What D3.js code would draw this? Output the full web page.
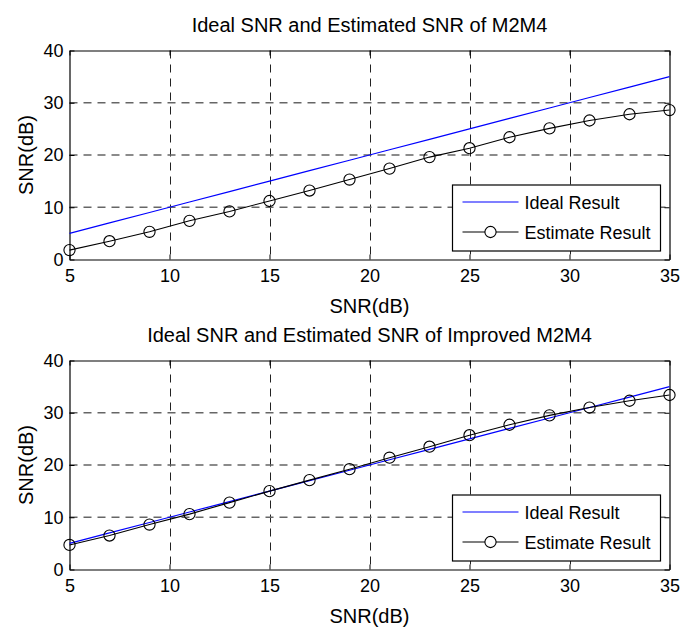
<!DOCTYPE html>
<html>
<head>
<meta charset="utf-8">
<script src="https://cdn.jsdelivr.net/npm/d3@7"></script>
<style>
html,body{margin:0;padding:0;background:#fff;}
svg{display:block;}
text{font-family:"Liberation Sans",Arial,Helvetica,sans-serif;fill:#000;}
</style>
</head>
<body>
<svg id="chart" width="694" height="628"></svg>
<script>
// ---- data ----
const snrIn = [5,7,9,11,13,15,17,19,21,23,25,27,29,31,33,35];
const idealTop = [5,7,9,11,13,15,17,19,21,23,25,27,29,31,33,35];
const estTop = [1.8,3.5,5.3,7.4,9.2,11.2,13.2,15.3,17.4,19.6,21.3,23.4,25.1,26.6,27.8,28.6];
const idealBottom = [5,7,9,11,13,15,17,19,21,23,25,27,29,31,33,35];
const estBottom = [4.7,6.5,8.6,10.6,12.8,15.0,17.1,19.2,21.4,23.5,25.7,27.7,29.5,31.0,32.3,33.4];
const xTicks = [5,10,15,20,25,30,35];
const yTicks = [0,10,20,30,40];
const titles = ["Ideal SNR and Estimated SNR of M2M4","Ideal SNR and Estimated SNR of Improved M2M4"];
const axisLabel = "SNR(dB)";
const legendLabels = ["Ideal Result","Estimate Result"];

const svg = d3.select("#chart");
const L = 69.5, R = 669.5, H = 209;
const panels = [
  {top:50.5, ideal:idealTop, est:estTop, title:titles[0]},
  {top:360.5, ideal:idealBottom, est:estBottom, title:titles[1]}
];

panels.forEach(p => {
  const x = d3.scaleLinear().domain([5,35]).range([L,R]);
  const y = d3.scaleLinear().domain([0,40]).range([p.top+H,p.top]);
  const g = svg.append("g");

  // grid
  g.append("g").selectAll("line").data(xTicks.slice(1,-1)).join("line")
    .attr("x1",d=>Math.round(x(d))+0.5).attr("x2",d=>Math.round(x(d))+0.5)
    .attr("y1",p.top).attr("y2",p.top+H)
    .attr("stroke","#222").attr("stroke-width",1).attr("stroke-dasharray","8,6");
  g.append("g").selectAll("line").data(yTicks.slice(1,-1)).join("line")
    .attr("x1",L).attr("x2",R)
    .attr("y1",d=>y(d)).attr("y2",d=>y(d))
    .attr("stroke","#666").attr("stroke-width",1.6).attr("stroke-dasharray","8,6");

  // axes
  const fs = "18px";
  const ax = g.append("g").attr("transform",`translate(0,${p.top+H})`)
    .call(d3.axisBottom(x).tickValues(xTicks).tickSize(-5).tickPadding(10).tickSizeOuter(0));
  const ay = g.append("g").attr("transform",`translate(${L},0)`)
    .call(d3.axisLeft(y).tickValues(yTicks).tickSize(-5).tickPadding(6).tickSizeOuter(0));
  const at = g.append("g").attr("transform",`translate(0,${p.top})`)
    .call(d3.axisTop(x).tickValues(xTicks).tickSize(-5).tickFormat("").tickSizeOuter(0));
  const ar = g.append("g").attr("transform",`translate(${R},0)`)
    .call(d3.axisRight(y).tickValues(yTicks).tickSize(-5).tickFormat("").tickSizeOuter(0));
  [ax,ay,at,ar].forEach(a=>{
    a.selectAll("path").attr("stroke","#000").attr("stroke-width",1.2);
    a.selectAll("line").attr("stroke","#000");
    a.selectAll("text").attr("font-size",fs).attr("font-family",null).attr("fill","#000");
  });

  // lines
  const lineIdeal = d3.line().x((d,i)=>x(snrIn[i])).y(d=>y(d));
  g.append("path").datum(p.ideal).attr("d",lineIdeal)
    .attr("fill","none").attr("stroke","#0000ff").attr("stroke-width",1.2);
  g.append("path").datum(p.est).attr("d",lineIdeal)
    .attr("fill","none").attr("stroke","#000").attr("stroke-width",1.1);
  g.append("g").selectAll("circle").data(p.est).join("circle")
    .attr("cx",(d,i)=>x(snrIn[i])).attr("cy",d=>y(d)).attr("r",5.6)
    .attr("fill","none").attr("stroke","#000").attr("stroke-width",1.1);

  // titles & labels
  g.append("text").attr("x",(L+R)/2).attr("y",p.top-18.5).attr("text-anchor","middle")
    .attr("font-size","20px").text(p.title);
  g.append("text").attr("x",(L+R)/2).attr("y",p.top+H+53).attr("text-anchor","middle")
    .attr("font-size","20px").text(axisLabel);
  g.append("text").attr("transform",`translate(33,${p.top+H/2}) rotate(-90)`)
    .attr("text-anchor","middle").attr("font-size","20px").text(axisLabel);

  // legend
  const lx = 452.5, ly = p.top+134.5;
  const lg = g.append("g");
  lg.append("rect").attr("x",lx).attr("y",ly).attr("width",208).attr("height",66)
    .attr("fill","#fff").attr("stroke","#000").attr("stroke-width",1.2);
  const rows = [ly+17, ly+47];
  lg.append("line").attr("x1",lx+10).attr("x2",lx+66).attr("y1",rows[0]).attr("y2",rows[0])
    .attr("stroke","#0000ff").attr("stroke-width",1.2);
  lg.append("line").attr("x1",lx+10).attr("x2",lx+66).attr("y1",rows[1]).attr("y2",rows[1])
    .attr("stroke","#000").attr("stroke-width",1.1);
  lg.append("circle").attr("cx",lx+38).attr("cy",rows[1]).attr("r",5.6)
    .attr("fill","#fff").attr("stroke","#000").attr("stroke-width",1.1);
  legendLabels.forEach((t,i)=>{
    lg.append("text").attr("x",lx+72).attr("y",rows[i]+6.5).attr("font-size","18px").text(t);
  });
});
</script>
</body>
</html>
